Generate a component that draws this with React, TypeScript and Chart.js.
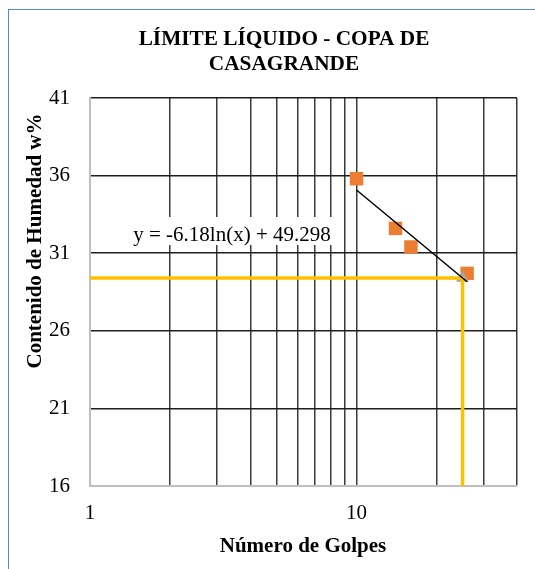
import React, { useEffect, useRef } from "react";
import { Chart, registerables } from "chart.js";

Chart.register(...registerables);

const titleLines = ["LÍMITE LÍQUIDO - COPA DE", "CASAGRANDE"];
const xTitle = "Número de Golpes";
const yTitle = "Contenido de Humedad w%";
const trendLabel = "y = -6.18ln(x) + 49.298";

const xTickValues = [1, 2, 3, 4, 5, 6, 7, 8, 9, 10, 20, 30, 40];
const xTickLabels = ["1", "", "", "", "", "", "", "", "", "10", "", "", ""];
const yTickValues = [16, 21, 26, 31, 36, 41];

const golpes = [10, 14, 16, 26];
const humedad = [35.8, 32.6, 31.4, 29.7];

const trendX = [10, 26];
const trendY = [35.07, 29.16];

const llX = [25];
const llY = [29.41];

const guideX = [1, 25, 25];
const guideY = [29.41, 29.41, 16];

const FONT = "'Liberation Serif', 'Times New Roman', serif";

const pts = (xs: number[], ys: number[]) => xs.map((x, i) => ({ x, y: ys[i] }));

const textPlugin = {
  id: "textPlugin",
  afterDraw(chart: any) {
    const ctx = chart.ctx;
    ctx.save();
    ctx.fillStyle = "#000";
    // title
    ctx.font = `bold 21.3px ${FONT}`;
    ctx.textAlign = "center";
    ctx.textBaseline = "alphabetic";
    ctx.fillText(titleLines[0], 284, 45);
    ctx.fillText(titleLines[1], 284, 70);
    // x title
    ctx.font = `bold 21px ${FONT}`;
    ctx.fillText(xTitle, 303, 552);
    // y title
    ctx.save();
    ctx.translate(41, 241);
    ctx.rotate(-Math.PI / 2);
    ctx.fillText(yTitle, 0, 0);
    ctx.restore();
    // trend label
    ctx.font = `21px ${FONT}`;
    const w = ctx.measureText(trendLabel).width;
    const cx = 232;
    ctx.fillStyle = "#fff";
    ctx.fillRect(cx - w / 2 - 6, 217, w + 12, 28);
    ctx.fillStyle = "#000";
    ctx.fillText(trendLabel, cx, 241);
    ctx.restore();
  },
};

export default function App() {
  const ref = useRef<HTMLCanvasElement | null>(null);
  useEffect(() => {
    if (!ref.current) return;
    const chart = new Chart(ref.current, {
      type: "scatter",
      data: {
        datasets: [
          {
            label: "Tendencia",
            data: pts(trendX, trendY),
            showLine: true,
            borderColor: "#000",
            borderWidth: 1.5,
            pointRadius: 0,
          },
          {
            label: "Guía",
            data: pts(guideX, guideY),
            showLine: true,
            borderColor: "#FFC000",
            borderWidth: 3.5,
            pointRadius: 0,
          },
          {
            label: "LL",
            data: pts(llX, llY),
            pointStyle: "triangle",
            pointRadius: 7.5,
            backgroundColor: "#A5A5A5",
            borderColor: "#A5A5A5",
            borderWidth: 0,
          },
          {
            label: "Ensayos",
            data: pts(golpes, humedad),
            pointStyle: "rect",
            pointRadius: 9.5,
            backgroundColor: "#ED7D31",
            borderColor: "#ED7D31",
            borderWidth: 0,
          },
        ],
      },
      options: {
        animation: false,
        responsive: false,
        layout: { padding: { top: 98, right: 18, left: 0, bottom: 0 } },
        plugins: {
          legend: { display: false },
          tooltip: { enabled: false },
          title: { display: false },
        },
        scales: {
          x: {
            type: "logarithmic",
            min: 1,
            max: 40,
            afterBuildTicks: (scale: any) => {
              scale.ticks = xTickValues.map((v) => ({ value: v }));
            },
            afterFit: (scale: any) => {
              scale.height = 83;
            },
            ticks: {
              autoSkip: false,
              maxRotation: 0,
              padding: 15,
              color: "#000",
              font: { family: FONT, size: 21 },
              callback: (_v: any, i: number) => xTickLabels[i],
            },
            grid: {
              drawTicks: false,
              lineWidth: 1.5,
              color: (c: any) => (c.tick && c.tick.value === 1 ? "#bfbfbf" : "#3a3a3a"),
            },
            border: { color: "#bfbfbf", width: 2 },
          },
          y: {
            min: 16,
            max: 41,
            afterBuildTicks: (scale: any) => {
              scale.ticks = yTickValues.map((v) => ({ value: v }));
            },
            afterFit: (scale: any) => {
              scale.width = 90;
            },
            ticks: {
              padding: 20,
              color: "#000",
              font: { family: FONT, size: 21 },
              callback: (v: any) => String(v),
            },
            grid: {
              drawTicks: false,
              lineWidth: 1.5,
              color: (c: any) => (c.tick && c.tick.value === 16 ? "#bfbfbf" : "#1f1f1f"),
            },
            border: { color: "#bfbfbf", width: 2 },
          },
        },
      },
      plugins: [textPlugin],
    } as any);
    return () => chart.destroy();
  }, []);

  return (
    <div style={{ position: "absolute", left: 0, top: 0, width: 535, height: 569, overflow: "hidden", background: "#fff" }}>
      <div
        style={{
          position: "absolute",
          left: 8,
          top: 9,
          width: 527,
          height: 560,
          borderTop: "1px solid #5b87d1",
          borderLeft: "1px solid #5b87d1",
          boxSizing: "border-box",
        }}
      />
      <canvas ref={ref} width={535} height={569} style={{ position: "absolute", left: 0, top: 0 }} />
    </div>
  );
}
